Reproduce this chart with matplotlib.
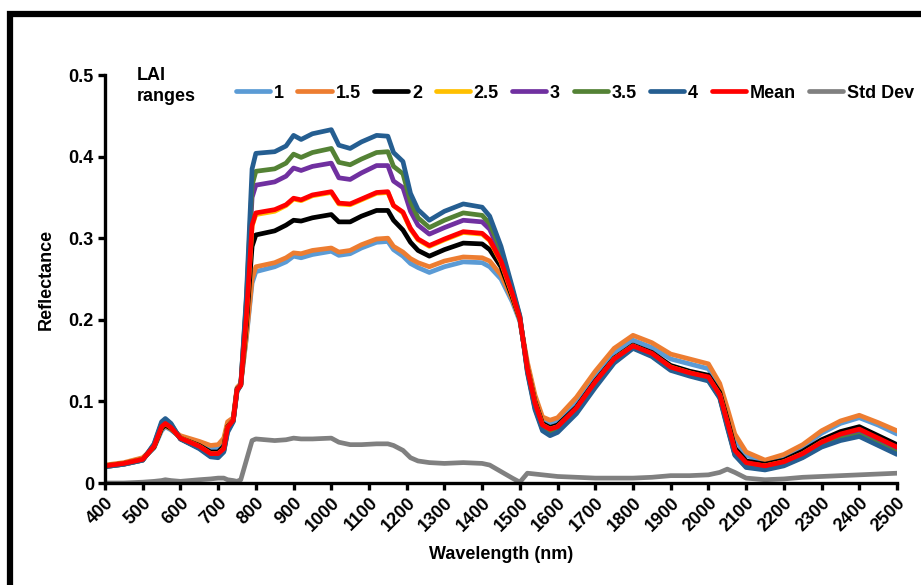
"""
Reflectance spectra by LAI range, with mean and std dev.
Saves out.png (921x585).
"""

import matplotlib
matplotlib.use("Agg")
import matplotlib.pyplot as plt
from matplotlib.patches import Rectangle

# ── Data ────────────────────────────────────────────────────
wavelength = [400, 450, 500, 530, 550, 560, 575, 600, 650, 680,
              700, 715, 725, 740, 750, 760, 775, 790, 800, 850,
              880, 900, 920, 950, 1000, 1020, 1050, 1080, 1120, 1150,
              1165, 1190, 1210, 1230, 1260, 1300, 1350, 1400, 1420, 1450,
              1480, 1500, 1520, 1540, 1560, 1580, 1600, 1650, 1700, 1750,
              1800, 1850, 1900, 1950, 2000, 2030, 2050, 2070, 2100, 2150,
              2200, 2250, 2300, 2350, 2400, 2450, 2500]

lai_1 = [.021, .024, .030, .043, .064, .069, .065, .056, .049, .042,
         .043, .050, .072, .078, .116, .121, .178, .245,
         .259, .265, .271, .278, .276, .280, .284, .279, .281, .288, .295, .296,
         .286, .278, .269, .264, .258, .265, .271, .270, .265, .250, .222, .198,
         .145, .104, .077, .072, .076, .099, .131, .160, .175, .166, .152, .146,
         .140, .117, .086, .054, .034, .025, .032, .044, .061, .073, .080, .071, .060]

lai_1_5 = [.022, .025, .031, .044, .066, .070, .066, .058, .051, .046,
           .047, .055, .075, .080, .117, .122, .180, .250,
           .265, .270, .276, .282, .281, .285, .288, .283, .285, .292, .299, .300,
           .290, .283, .275, .270, .265, .272, .277, .276, .272, .255, .225, .200,
           .148, .108, .081, .077, .080, .105, .137, .165, .181, .172, .158, .152,
           .146, .122, .092, .060, .038, .028, .035, .047, .064, .076, .083, .074, .064]

lai_2 = [.021, .024, .029, .044, .067, .071, .067, .055, .046, .038,
         .038, .045, .069, .077, .115, .120, .195, .290,
         .304, .309, .316, .322, .321, .325, .329, .320, .320, .327, .334, .334,
         .322, .310, .295, .285, .278, .286, .294, .293, .286, .265, .228, .201,
         .141, .100, .073, .068, .071, .093, .125, .153, .169, .160, .144, .137,
         .132, .111, .078, .043, .027, .023, .028, .039, .053, .063, .069, .058, .047]

lai_2_5 = [.021, .024, .029, .045, .069, .073, .068, .055, .045, .036,
           .036, .042, .068, .077, .114, .120, .205, .315,
           .329, .333, .340, .348, .346, .352, .356, .342, .341, .347, .355, .356,
           .340, .331, .311, .298, .290, .298, .307, .305, .297, .271, .231, .202,
           .140, .098, .071, .066, .069, .091, .123, .152, .168, .158, .142, .135,
           .129, .108, .074, .039, .024, .021, .026, .036, .050, .059, .065, .054, .042]

lai_3 = [.020, .023, .028, .046, .072, .076, .071, .054, .043, .034,
         .033, .040, .065, .076, .114, .120, .220, .350,
         .365, .369, .376, .386, .383, .388, .392, .374, .372, .380, .389, .389,
         .370, .362, .333, .316, .305, .313, .322, .320, .311, .280, .235, .203,
         .138, .094, .067, .061, .065, .088, .120, .149, .167, .157, .140, .133,
         .127, .106, .071, .036, .021, .018, .023, .033, .047, .056, .061, .050, .039]

lai_3_5 = [.020, .023, .028, .047, .073, .077, .072, .054, .043, .033,
           .032, .039, .064, .076, .113, .120, .225, .365,
           .382, .385, .392, .403, .399, .405, .410, .393, .390, .397, .405, .406,
           .388, .379, .345, .325, .313, .322, .331, .328, .318, .285, .237, .204,
           .137, .092, .066, .060, .064, .087, .119, .148, .166, .156, .139, .132,
           .126, .105, .070, .035, .020, .017, .022, .032, .045, .054, .059, .048, .037]

lai_4 = [.020, .023, .028, .048, .075, .079, .073, .054, .042, .032,
         .031, .038, .062, .075, .112, .120, .230, .385,
         .404, .406, .413, .426, .421, .428, .433, .414, .410, .418, .426, .425,
         .405, .394, .355, .335, .322, .333, .342, .338, .327, .290, .240, .205,
         .135, .090, .064, .058, .062, .085, .117, .147, .165, .155, .138, .131,
         .125, .104, .068, .034, .019, .016, .021, .031, .044, .052, .057, .046, .035]

mean_refl = [.021, .024, .029, .045, .069, .073, .068, .055, .045, .036,
             .036, .042, .068, .077, .114, .120, .205, .316,
             .331, .335, .341, .349, .347, .353, .357, .343, .342, .348, .356, .357,
             .340, .332, .312, .299, .291, .299, .308, .306, .298, .272, .232, .202,
             .140, .098, .071, .066, .069, .092, .124, .152, .168, .159, .142, .135,
             .130, .108, .075, .040, .025, .021, .026, .036, .050, .060, .066, .055, .044]

std_refl = [.000, .000, .001, .002, .003, .004, .003, .002, .004, .005,
            .006, .006, .004, .003, .002, .004, .028, .052,
            .054, .052, .053, .055, .054, .054, .055, .050, .047, .047, .048, .048,
            .046, .040, .031, .027, .025, .024, .025, .024, .022, .014, .006, .001,
            .012, .011, .010, .009, .008, .007, .006, .006, .006, .007, .009, .009,
            .010, .013, .017, .013, .006, .004, .005, .007, .008, .009, .010, .011, .012]

labels = ["1", "1.5", "2", "2.5", "3", "3.5", "4", "Mean", "Std Dev"]
colors = ["#5B9BD5", "#ED7D31", "#000000", "#FFC000", "#7030A0",
          "#548235", "#255E91", "#FF0000", "#808080"]

x_ticks = list(range(400, 2501, 100))
y_ticks = [0, 0.1, 0.2, 0.3, 0.4, 0.5]
y_tick_labels = ["0", "0.1", "0.2", "0.3", "0.4", "0.5"]

FS = 13


def main():
    plt.rcParams["font.family"] = ["Liberation Sans", "DejaVu Sans"]
    plt.rcParams["font.weight"] = "bold"

    series = [lai_1, lai_1_5, lai_2, lai_2_5, lai_3, lai_3_5, lai_4,
              mean_refl, std_refl]

    fig = plt.figure(figsize=(9.21, 5.85), dpi=100)
    ax = fig.add_axes([105 / 921, 102 / 585, 792 / 921, 408 / 585])

    handles = []
    for vals, lab, col in zip(series, labels, colors):
        h, = ax.plot(wavelength, vals, color=col, linewidth=3.4,
                     solid_joinstyle="round", solid_capstyle="round", label=lab)
        handles.append(h)

    ax.set_xlim(400, 2500)
    ax.set_ylim(0, 0.5)
    ax.set_xticks(x_ticks)
    ax.set_xticklabels([str(t) for t in x_ticks], rotation=45, ha="right",
                       rotation_mode="anchor", fontsize=FS, fontweight="bold")
    ax.set_yticks(y_ticks)
    ax.set_yticklabels(y_tick_labels, fontsize=FS, fontweight="bold")

    for side in ("top", "right"):
        ax.spines[side].set_visible(False)
    for side in ("left", "bottom"):
        ax.spines[side].set_linewidth(2.4)
    ax.tick_params(axis="both", direction="out", length=5, width=2.4, pad=3)

    ax.set_xlabel("Wavelength (nm)", fontsize=FS, fontweight="bold", labelpad=8)
    ax.set_ylabel("Reflectance", fontsize=FS, fontweight="bold", labelpad=10)

    # legend across the top, with its own "LAI ranges" caption
    fig.text(137 / 921, 1 - 86 / 585, "LAI\nranges", fontsize=FS,
             fontweight="bold", ha="left", va="center", linespacing=1.35)
    fig.legend(handles=handles, loc="center left",
               bbox_to_anchor=(236 / 921, 1 - 93 / 585), ncol=9,
               frameon=False, handlelength=1.9,
               handletextpad=0.2, columnspacing=0.75, borderpad=0,
               borderaxespad=0, prop={"weight": "bold", "size": FS})

    # thick outer frame (left and top edges visible)
    fig.add_artist(Rectangle((10 / 921, -0.2), 1.2, 1.2 - 14 / 585,
                             transform=fig.transFigure, fill=False,
                             edgecolor="black", linewidth=4.5, clip_on=False))

    fig.savefig("out.png", dpi=100)
    plt.close(fig)


if __name__ == "__main__":
    main()
